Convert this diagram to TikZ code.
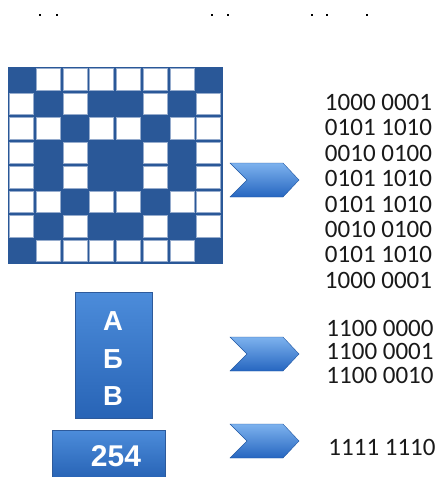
\documentclass[tikz,border=0pt]{standalone}
\usepackage{fontspec}
\setmainfont{Carlito}
\newfontfamily\boxfont{Liberation Sans}
\definecolor{gridblue}{RGB}{42,88,152}
\definecolor{gridline}{RGB}{150,172,205}
\definecolor{chevtop}{RGB}{125,178,238}
\definecolor{chevbot}{RGB}{38,102,192}
\definecolor{boxtop}{RGB}{76,140,218}
\definecolor{boxbot}{RGB}{40,100,182}
\definecolor{boxedge}{RGB}{45,90,155}
\begin{document}
\begin{tikzpicture}[x=1pt,y=-1pt,
  bits/.style={font=\fontsize{25}{25}\selectfont, text=black!90, inner sep=0pt},
  bluebox/.style={draw=boxedge, line width=0.6pt, top color=boxtop, bottom color=boxbot, inner sep=0pt},
  boxtext/.style={text=white, align=center, inner sep=0pt},
  chev/.style={top color=chevtop, bottom color=chevbot, draw=chevbot!85!black, line width=0.4pt},
  chevron/.pic={\path[chev] (-35,-17) -- (18,-17) -- (34,0) -- (18,17) -- (-35,17) -- (-18,0) -- cycle;}
]
\useasboundingbox (0,0) rectangle (442,477);
% top dots
\foreach \px in {40,57,212,228,312,327,367} {\fill[black] (\px-1.2,13.8) rectangle (\px+1.2,16.2);}
% pixel grid
\fill[gridblue] (8,67) rectangle (222,263);
\foreach \r/\bits in {0/{1,0,0,0,0,0,0,1},1/{0,1,0,1,1,0,1,0},2/{0,0,1,0,0,1,0,0},3/{0,1,0,1,1,0,1,0},
                      4/{0,1,0,1,1,0,1,0},5/{0,0,1,0,0,1,0,0},6/{0,1,0,1,1,0,1,0},7/{1,0,0,0,0,0,0,1}} {
  \foreach \b [count=\c from 0] in \bits {
    \ifnum\b=0
      \filldraw[fill=white, draw=gridline, line width=0.5pt]
        ({8+\c*26.75+1.3},{67+\r*24.5+1.3}) rectangle ({8+(\c+1)*26.75-1.3},{67+(\r+1)*24.5-1.3});
    \fi
  }
}
\draw[gridblue, line width=0.8pt] (8,67) rectangle (222,263);
% chevrons
\pic at (265,180) {chevron};
\pic at (265,354) {chevron};
\pic at (265,441) {chevron};
% binary code of the picture
\foreach \t [count=\i from 0] in {1000 0001,0101 1010,0010 0100,0101 1010,0101 1010,0010 0100,0101 1010,1000 0001}
  {\node[bits] (p\i) at (378.5,{102.5+\i*25.4}) {\t};}
% letters
\node[bluebox, minimum width=77pt, minimum height=126pt] (abv) at (113.5,355) {};
\node[boxtext, font=\boxfont\bfseries\fontsize{27.5}{37.5}\selectfont] (abvt) at (113,359) {А\\Б\\В};
\node[bits] (c0) at (380,328) {1100 0000};
\node[bits] (c1) at (380,351.5) {1100 0001};
\node[bits] (c2) at (380,375) {1100 0010};
% number
\node[bluebox, minimum width=113pt, minimum height=47pt] (num) at (108.5,454) {};
\node[boxtext, font=\boxfont\bfseries\fontsize{30}{30}\selectfont] (numt) at (116,456) {254};
\node[bits] (n0) at (382,447) {1111 1110};
\end{tikzpicture}
\end{document}
